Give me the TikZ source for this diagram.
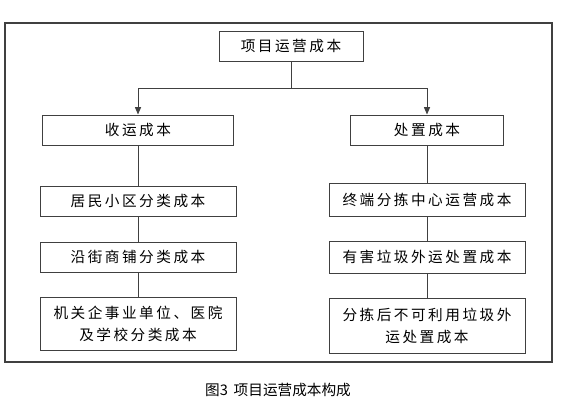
\documentclass[tikz,border=0pt]{standalone}
\usepackage{fontspec}
\usepackage{tikz}
\usetikzlibrary{positioning, arrows.meta}
\newfontfamily\cjk{Noto Sans CJK SC}
\newfontfamily\cjkbox[LetterSpace=17]{Noto Sans CJK SC}

\begin{document}
\begin{tikzpicture}[
    x=0.03cm, y=-0.03cm,
    costbox/.style={draw=black!75, line width=0.8pt, fill=white, inner sep=0pt,
                    minimum width=5.88cm, minimum height=0.9cm, align=center,
                    font=\cjkbox\fontsize{12.5}{18.8}\selectfont},
    link/.style={draw=black!75, line width=0.8pt},
    arrow/.style={link, -{Triangle[length=2.2mm, width=1.8mm]}}
]

    % Page and frame
    \useasboundingbox (0,0) rectangle (588,401);
    \draw[black!75, line width=1pt] (5,23) rectangle (552,362);

    % Top level
    \node[costbox, minimum width=4.32cm] (total) at (291,46) {项目运营成本};
    \coordinate (split) at (291,88);

    % Second level
    \node[costbox, minimum width=5.73cm] (collect) at (138,130) {收运成本};
    \node[costbox, minimum width=4.6cm] (dispose) at (427,130) {处置成本};

    % Collection costs
    \node[costbox] (resid) at (138,201) {居民小区分类成本};
    \node[costbox] (shops) at (138,257) {沿街商铺分类成本};
    \node[costbox, minimum height=1.59cm] (inst) at (138,323.5) {机关企事业单位、医院\\及学校分类成本};

    % Disposal costs
    \node[costbox, minimum height=0.99cm] (sorting) at (427,199.5) {终端分拣中心运营成本};
    \node[costbox, minimum height=0.96cm] (hazard) at (427,257) {有害垃圾外运处置成本};
    \node[costbox, minimum height=1.65cm] (rest) at (427,325.5) {分拣后不可利用垃圾外\\运处置成本};

    % Connectors
    \draw[link] (total) -- (split);
    \draw[arrow] (split) -| (collect.north);
    \draw[arrow] (split) -| (dispose.north);
    \draw[link] (collect) -- (resid);
    \draw[link] (resid) -- (shops);
    \draw[link] (shops) -- (inst);
    \draw[link] (dispose) -- (sorting);
    \draw[link] (sorting) -- (hazard);
    \draw[link] (hazard) -- (rest);

    % Caption
    \node[font=\cjk\fontsize{12.5}{14}\selectfont] (caption) at (278,390) {图3\hspace{0.4em}项目运营成本构成};

\end{tikzpicture}
\end{document}
